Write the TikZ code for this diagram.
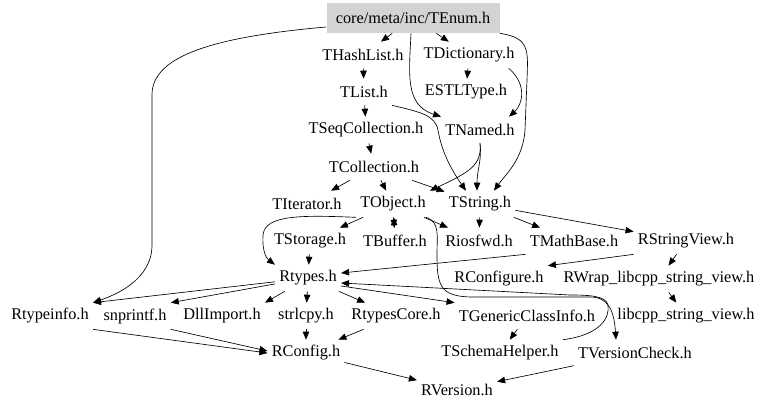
\documentclass[tikz,border=0pt]{standalone}
\usepackage{fontspec}
\setmainfont{Liberation Serif}
\usetikzlibrary{arrows.meta}
\definecolor{rootgray}{HTML}{D3D3D3}

\begin{document}
\begin{tikzpicture}
	[x=1pt, y=-1pt, >={Triangle[length=8pt,width=6.5pt]}, line width=0.65pt,
	every node/.style={inner xsep=4pt,inner ysep=0pt,minimum height=26pt,font=\fontsize{16.3}{19}\selectfont},
	root/.style={fill=rootgray,minimum width=173pt,minimum height=30pt}]
	\useasboundingbox (0,0) rectangle (768,410);
	\node (tenum) [root] at (413,18) {core/meta/inc/TEnum.h};
	\node (thashlist) at (363,55) {THashList.h};
	\node (tdictionary) at (469,55) {TDictionary.h};
	\node (tlist) at (364,92) {TList.h};
	\node (estltype) at (466,92) {ESTLType.h};
	\node (tseqcollection) at (366,130) {TSeqCollection.h};
	\node (tnamed) at (480,130) {TNamed.h};
	\node (tcollection) at (374,167) {TCollection.h};
	\node (titerator) at (307,204) {TIterator.h};
	\node (tobject) at (393,204) {TObject.h};
	\node (tstring) at (480,204) {TString.h};
	\node (tstorage) at (310,241) {TStorage.h};
	\node (tbuffer) at (395,241) {TBuffer.h};
	\node (riosfwd) at (479,241) {Riosfwd.h};
	\node (tmathbase) at (574,241) {TMathBase.h};
	\node (rstringview) at (686,241) {RStringView.h};
	\node (rtypes) at (308,278) {Rtypes.h};
	\node (rconfigure) at (499,279) {RConfigure.h};
	\node (rwrap) at (659,279) {RWrap\_libcpp\_string\_view.h};
	\node (rtypeinfo) at (50,316) {Rtypeinfo.h};
	\node (snprintf) at (135,316) {snprintf.h};
	\node (dllimport) at (222,316) {DllImport.h};
	\node (strlcpy) at (306,316) {strlcpy.h};
	\node (rtypescore) at (396,316) {RtypesCore.h};
	\node (tgenericclassinfo) at (527,316) {TGenericClassInfo.h};
	\node (libcpp) at (686,316) {libcpp\_string\_view.h};
	\node (rconfig) at (306,353) {RConfig.h};
	\node (tschemahelper) at (500,353) {TSchemaHelper.h};
	\node (tversioncheck) at (635,353) {TVersionCheck.h};
	\node (rversion) at (457,390) {RVersion.h};
	\draw [->] (tenum) -- (thashlist);
	\draw [->] (tenum) -- (tdictionary);
	\draw [->] ([yshift=-9pt]tenum.west) .. controls (200,38) and (152,60) .. (152,95) -- (152,245) .. controls (152,280) and (115,295) .. (rtypeinfo.north east);
	\draw [->] ([xshift=-2pt]tenum.south) .. controls (409,75) and (405,105) .. (tnamed.north west);
	\draw [->] (tenum.south east) .. controls (530,38) and (528,50) .. (527,80) -- (525,130) .. controls (523,160) and (505,175) .. ([xshift=14pt]tstring.north);
	\draw [->] (thashlist) -- (tlist);
	\draw [->] (tdictionary) -- (estltype);
	\draw [->] ([xshift=-10pt]tdictionary.south east) .. controls (528,85) and (522,105) .. ([xshift=-10pt]tnamed.north east);
	\draw [->] (tlist) -- (tseqcollection);
	\draw [->] (tlist.south east) .. controls (420,112) and (435,115) .. (438,130) .. controls (442,155) and (455,175) .. ([xshift=-14pt]tstring.north);
	\draw [->] (tseqcollection) -- (tcollection);
	\draw [->] (tnamed.south) .. controls (482,160) and (477,170) .. ([xshift=-3pt]tstring.north);
	\draw [->] (tnamed.south) .. controls (482,165) and (470,172) .. (tobject.north east);
	\draw [->] (tcollection) -- (titerator);
	\draw [->] (tcollection) -- (tobject);
	\draw [->] (tcollection) -- (tstring);
	\draw [->] (tobject) -- (tstorage);
	\draw [->] (tobject.south west) .. controls (300,215) and (265,215) .. (263,235) .. controls (262,250) and (266,258) .. (rtypes.north west);
	\draw [->] (tobject) -- (tbuffer);
	\draw [->] (tbuffer) -- (tobject);
	\draw [->] (tobject) -- (riosfwd);
	\draw [->] ([xshift=-4pt]tobject.south east) .. controls (440,222) and (437,235) .. (437,255) .. controls (437,285) and (440,296) .. (470,297) -- (590,297) .. controls (608,297) and (614,310) .. ([xshift=-19pt]tversioncheck.north);
	\draw [->] (tstring) -- (riosfwd);
	\draw [->] (tstring) -- (tmathbase);
	\draw [->] (tstring) -- (rstringview);
	\draw [->] (tmathbase.south west) -- ([yshift=5pt]rtypes.east);
	\draw [->] (rstringview.south west) -- (rconfigure.north east);
	\draw [->] (rstringview) -- (rwrap);
	\draw [->] (rwrap) -- (libcpp);
	\draw [->] (tstorage) -- (rtypes);
	\draw [->] (rtypes) -- (rtypeinfo.north east);
	\draw [->] (rtypes) -- (snprintf.north east);
	\draw [->] (rtypes) -- (dllimport.north east);
	\draw [->] (rtypes) -- (strlcpy);
	\draw [->] (rtypes) -- (rtypescore);
	\draw [->] ([yshift=-8pt]rtypes.east) -- (tgenericclassinfo.north west);
	\draw [->] (tschemahelper.north east) .. controls (600,335) and (610,318) .. (608,305) .. controls (606,296) and (590,295) .. (570,295) -- ([yshift=-5pt]rtypes.east);
	\draw [->] (tgenericclassinfo) -- (tschemahelper);
	\draw [->] (rtypeinfo.south east) -- (rconfig.west);
	\draw [->] (snprintf.south east) -- ([yshift=2pt]rconfig.west);
	\draw [->] (strlcpy) -- (rconfig);
	\draw [->] (rtypescore) -- (rconfig);
	\draw [->] (rconfig) -- (rversion);
	\draw [->] (tversioncheck) -- (rversion);
\end{tikzpicture}
\end{document}
